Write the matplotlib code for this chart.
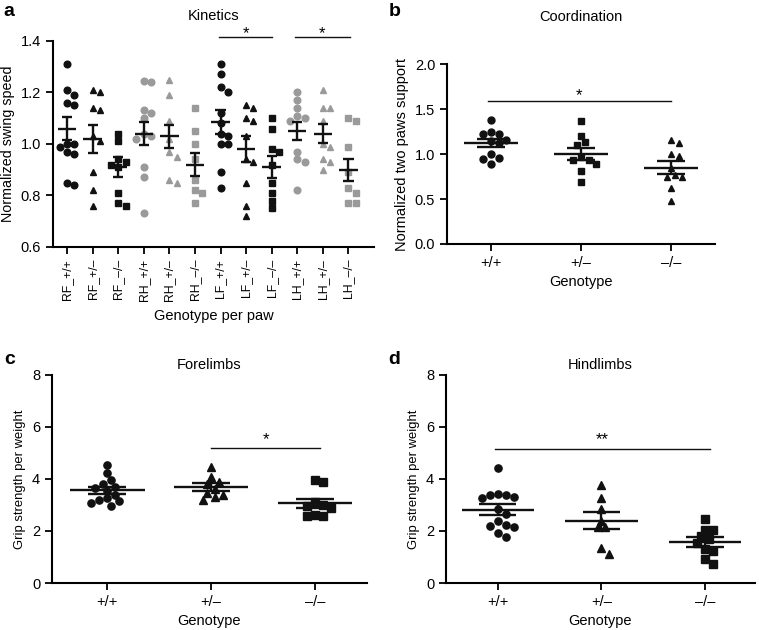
import numpy as np
import matplotlib
matplotlib.use("Agg")
import matplotlib.pyplot as plt

plt.rcParams['font.family'] = ['Liberation Sans', 'DejaVu Sans']

# ---------------- data ----------------
# panel a: normalized swing speed per paw
kin_labels = ["RF_+/+", "RF_+/–", "RF_–/–", "RH_+/+", "RH_+/–", "RH_–/–",
              "LF_+/+", "LF_+/–", "LF_–/–", "LH_+/+", "LH_+/–", "LH_–/–"]
kin_values = [
    [1.31, 1.21, 1.19, 1.16, 1.15, 1.00, 1.00, 0.99, 0.97, 0.96, 0.85, 0.84],
    [1.21, 1.20, 1.14, 1.13, 1.03, 1.01, 0.89, 0.82, 0.76],
    [1.04, 1.01, 0.94, 0.93, 0.92, 0.91, 0.81, 0.77, 0.76],
    [1.245, 1.24, 1.13, 1.12, 1.10, 1.04, 1.03, 1.02, 0.91, 0.87, 0.73],
    [1.25, 1.19, 1.09, 1.02, 0.97, 0.95, 0.86, 0.85],
    [1.14, 1.05, 1.00, 0.94, 0.86, 0.82, 0.81, 0.77],
    [1.31, 1.27, 1.22, 1.20, 1.12, 1.08, 1.04, 1.03, 1.00, 1.00, 0.89, 0.83],
    [1.15, 1.14, 1.10, 1.09, 1.03, 0.94, 0.93, 0.85, 0.76, 0.72],
    [1.10, 1.06, 0.98, 0.97, 0.92, 0.85, 0.81, 0.78, 0.75],
    [1.20, 1.17, 1.14, 1.11, 1.10, 1.09, 0.97, 0.94, 0.93, 0.82],
    [1.21, 1.14, 1.14, 1.09, 1.00, 0.99, 0.94, 0.93, 0.90],
    [1.10, 1.09, 0.99, 0.89, 0.83, 0.81, 0.77, 0.77],
]
kin_mean = [1.06, 1.02, 0.91, 1.04, 1.03, 0.92, 1.085, 0.98, 0.91, 1.05, 1.04, 0.90]
kin_sem = [0.045, 0.055, 0.04, 0.045, 0.045, 0.043, 0.045, 0.05, 0.042, 0.035, 0.037, 0.043]

geno = ["+/+", "+/–", "–/–"]

# panel b: normalized two paws support
coord_values = [
    [1.38, 1.24, 1.22, 1.22, 1.16, 1.15, 1.12, 1.00, 0.96, 0.95, 0.89],
    [1.37, 1.20, 1.13, 1.10, 0.97, 0.93, 0.93, 0.89, 0.81, 0.69],
    [1.16, 1.12, 1.00, 0.98, 0.85, 0.77, 0.74, 0.74, 0.62, 0.48],
]
coord_mean = [1.12, 1.00, 0.85]
coord_sem = [0.045, 0.07, 0.07]

# panel c: forelimb grip strength per weight
fore_values = [
    [4.55, 4.22, 3.95, 3.82, 3.70, 3.65, 3.55, 3.40, 3.25, 3.18, 3.15, 3.08, 2.98],
    [4.45, 4.08, 3.88, 3.80, 3.62, 3.45, 3.40, 3.32, 3.18],
    [3.98, 3.90, 3.10, 3.00, 2.95, 2.88, 2.60, 2.58, 2.58],
]
fore_mean = [3.57, 3.70, 3.07]
fore_sem = [0.13, 0.15, 0.17]

# panel d: hindlimb grip strength per weight
hind_values = [
    [4.42, 3.42, 3.40, 3.38, 3.30, 3.28, 2.85, 2.65, 2.40, 2.22, 2.20, 2.15, 1.92, 1.78],
    [3.78, 3.25, 2.85, 2.40, 2.15, 2.15, 1.35, 1.12],
    [2.48, 2.05, 2.02, 1.80, 1.70, 1.55, 1.30, 1.22, 0.92, 0.72],
]
hind_mean = [2.82, 2.40, 1.58]
hind_sem = [0.20, 0.32, 0.20]

BLACK = "#111111"
GRAY = "#9a9a9a"


def swarm_offsets(ax, x0, vals, diam_px):
    # simple beeswarm: shift points sideways until they do not overlap
    tr = ax.transData
    px_per_x = tr.transform((1, 0))[0] - tr.transform((0, 0))[0]
    pts = [tr.transform((x0, v)) for v in vals]
    offs = np.zeros(len(vals))
    placed = []
    step = diam_px * 0.55
    for i in np.argsort(vals)[::-1]:
        px, py = pts[i]
        k = 0
        chosen = None
        while chosen is None:
            cands = [0.0] if k == 0 else [k * step, -k * step]
            for dx in cands:
                if all((px + dx - qx) ** 2 + (py - qy) ** 2 >= (diam_px * 1.05) ** 2
                       for qx, qy in placed):
                    chosen = dx
                    break
            k += 1
        placed.append((px + chosen, py))
        offs[i] = chosen / px_per_x
    return offs


def draw_group(ax, x0, vals, mean, sem, marker, color, ms, mean_hw, cap_hw, lw=1.7):
    diam = ms * 100 / 72
    offs = swarm_offsets(ax, x0, vals, diam)
    ax.plot(x0 + offs, vals, linestyle="none", marker=marker, ms=ms,
            color=color, mec=color, zorder=2)
    ax.hlines(mean, x0 - mean_hw, x0 + mean_hw, color=BLACK, lw=lw, zorder=3)
    ax.vlines(x0, mean - sem, mean + sem, color=BLACK, lw=lw, zorder=3)
    ax.hlines([mean - sem, mean + sem], x0 - cap_hw, x0 + cap_hw,
              color=BLACK, lw=lw, zorder=3)


def style_axes(ax):
    for s in ["top", "right"]:
        ax.spines[s].set_visible(False)
    for s in ["left", "bottom"]:
        ax.spines[s].set_linewidth(1.5)
    ax.tick_params(direction="out", length=5, width=1.3, labelsize=10.5)


def sig_bar(ax, x1, x2, y, text, ystar):
    ax.plot([x1, x2], [y, y], color=BLACK, lw=1.0, clip_on=False)
    ax.text((x1 + x2) / 2, ystar, text, ha="center", va="center", fontsize=12,
            clip_on=False)


fig = plt.figure(figsize=(7.59, 6.3), dpi=100)

# ---------------- a ----------------
ax = fig.add_axes([0.0698, 0.608, 0.423, 0.327])
ax.set_xlim(-0.55, 12.0)
ax.set_ylim(0.6, 1.4)
style_axes(ax)
markers = ["o", "^", "s"]
for i, vals in enumerate(kin_values):
    col = GRAY if kin_labels[i][:2] in ("RH", "LH") else BLACK
    draw_group(ax, i, vals, kin_mean[i], kin_sem[i], markers[i % 3], col,
               4.8, 0.36, 0.2)
ax.set_xticks(range(len(kin_labels)))
ax.set_xticklabels(kin_labels, rotation=90, fontsize=8.8)
ax.set_yticks([0.6, 0.8, 1.0, 1.2, 1.4])
ax.set_yticklabels(["0.6", "0.8", "1.0", "1.2", "1.4"])
ax.set_ylabel("Normalized swing speed", fontsize=10.3)
ax.set_xlabel("Genotype per paw", fontsize=10.5, labelpad=6)
ax.set_title("Kinetics", fontsize=10.5, pad=15)
sig_bar(ax, 5.95, 8.0, 1.414, "*", 1.43)
sig_bar(ax, 8.9, 11.05, 1.414, "*", 1.43)

# ---------------- b ----------------
ax = fig.add_axes([0.589, 0.6127, 0.353, 0.2857])
ax.set_xlim(-0.49, 2.49)
ax.set_ylim(0, 2.0)
style_axes(ax)
for i, vals in enumerate(coord_values):
    draw_group(ax, i, vals, coord_mean[i], coord_sem[i], ["o", "s", "^"][i],
               BLACK, 5.0, 0.3, 0.16)
ax.set_xticks(range(3))
ax.set_xticklabels(geno)
ax.set_yticks([0, 0.5, 1.0, 1.5, 2.0])
ax.set_yticklabels(["0.0", "0.5", "1.0", "1.5", "2.0"])
ax.set_ylabel("Normalized two paws support", fontsize=10.5)
ax.set_xlabel("Genotype", fontsize=10.5)
ax.set_title("Coordination", fontsize=10.5, pad=31)
sig_bar(ax, -0.04, 2.0, 1.59, "*", 1.65)

# ---------------- c ----------------
ax = fig.add_axes([0.0685, 0.0746, 0.415, 0.3302])
ax.set_xlim(-0.53, 2.5)
ax.set_ylim(0, 8)
style_axes(ax)
for i, vals in enumerate(fore_values):
    draw_group(ax, i, vals, fore_mean[i], fore_sem[i], ["o", "^", "s"][i],
               BLACK, 5.2, 0.36, 0.18)
ax.set_xticks(range(3))
ax.set_xticklabels(geno)
ax.set_yticks([0, 2, 4, 6, 8])
ax.set_ylabel("Grip strength per weight", fontsize=9.4)
ax.set_xlabel("Genotype", fontsize=10.5)
ax.set_title("Forelimbs", fontsize=10.5, pad=4)
sig_bar(ax, 1.0, 2.05, 5.2, "*", 5.5)

# ---------------- d ----------------
ax = fig.add_axes([0.5876, 0.0746, 0.407, 0.3302])
ax.set_xlim(-0.5, 2.48)
ax.set_ylim(0, 8)
style_axes(ax)
for i, vals in enumerate(hind_values):
    draw_group(ax, i, vals, hind_mean[i], hind_sem[i], ["o", "^", "s"][i],
               BLACK, 5.2, 0.35, 0.18)
ax.set_xticks(range(3))
ax.set_xticklabels(geno)
ax.set_yticks([0, 2, 4, 6, 8])
ax.set_ylabel("Grip strength per weight", fontsize=9.4)
ax.set_xlabel("Genotype", fontsize=10.5)
ax.set_title("Hindlimbs", fontsize=10.5, pad=4)
sig_bar(ax, -0.03, 2.05, 5.17, "**", 5.5)

# panel letters
for lab, x, y in [("a", 0.005, 0.995), ("b", 0.512, 0.995),
                  ("c", 0.005, 0.443), ("d", 0.512, 0.443)]:
    fig.text(x, y, lab, fontsize=14, fontweight="bold", va="top", ha="left")

fig.savefig("out.png", dpi=100)
